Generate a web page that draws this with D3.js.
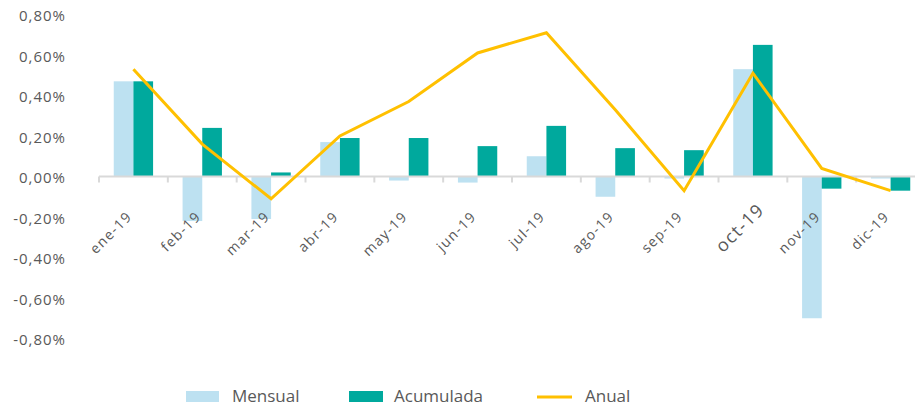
<!DOCTYPE html>
<html>
<head>
<meta charset="utf-8">
<script src="https://cdn.jsdelivr.net/npm/d3@7"></script>
<style>
  body { margin: 0; background: #fff; }
  svg text { font-family: "Open Sans", "DejaVu Sans", sans-serif; fill: #595959; }
</style>
</head>
<body>
<div id="chart"></div>
<script>
// data (percent)
const months = ["ene-19", "feb-19", "mar-19", "abr-19", "may-19", "jun-19",
                "jul-19", "ago-19", "sep-19", "oct-19", "nov-19", "dic-19"];
const mensual   = [0.47, -0.22, -0.21, 0.17, -0.02, -0.03, 0.10, -0.10, -0.01, 0.53, -0.70, -0.01];
const acumulada = [0.47, 0.24, 0.02, 0.19, 0.19, 0.15, 0.25, 0.14, 0.13, 0.65, -0.06, -0.07];
const anual     = [0.53, 0.16, -0.11, 0.20, 0.37, 0.61, 0.71, 0.33, -0.07, 0.51, 0.04, -0.07];
const yTicks = [-0.8, -0.6, -0.4, -0.2, 0, 0.2, 0.4, 0.6, 0.8];
const seriesNames = ["Mensual", "Acumulada"];

const colors = { Mensual: "#bde1f1", Acumulada: "#00a99d", Anual: "#ffc000" };

const width = 915, height = 408;

const svg = d3.select("#chart").append("svg")
    .attr("width", width)
    .attr("height", height);

// scales (plot runs a bit past the right edge, as in the original)
let x0 = d3.scaleBand().domain(months).range([99, 925]).padding(0);
let x1 = d3.scaleBand().domain(seriesNames).range([0, x0.bandwidth()])
    .paddingInner(0).paddingOuter(0.75);
let y = d3.scaleLinear().domain([-0.8, 0.8]).range([338.5, 14.5]);

let fmt = d => d3.format(".2f")(d).replace(".", ",").replace("−", "-") + "%";

// y axis labels (no line)
svg.append("g")
    .selectAll("text")
    .data(yTicks)
    .enter().append("text")
    .attr("x", 66)
    .attr("y", d => y(d) + 1)
    .attr("dy", "0.38em")
    .attr("text-anchor", "end")
    .style("font-size", "15px")
    .style("letter-spacing", "1px")
    .text(d => fmt(d));

// bars
let rows = months.map((m, i) => ({ month: m, Mensual: mensual[i], Acumulada: acumulada[i] }));

let groups = svg.append("g").selectAll("g")
    .data(rows)
    .enter().append("g")
    .attr("transform", d => "translate(" + x0(d.month) + ",0)");

groups.selectAll("rect")
    .data(d => seriesNames.map(k => ({ key: k, value: d[k] })))
    .enter().append("rect")
    .attr("x", d => x1(d.key))
    .attr("width", x1.bandwidth())
    .attr("y", d => y(Math.max(0, d.value)))
    .attr("height", d => Math.abs(y(d.value) - y(0)))
    .attr("fill", d => colors[d.key]);

// zero axis with ticks at band edges
let axis = svg.append("g");
axis.append("line")
    .attr("x1", x0.range()[0]).attr("x2", width)
    .attr("y1", y(0)).attr("y2", y(0))
    .attr("stroke", "#d9d9d9").attr("stroke-width", 2);
axis.selectAll(".tick")
    .data(months)
    .enter().append("line")
    .attr("x1", d => x0(d)).attr("x2", d => x0(d))
    .attr("y1", y(0)).attr("y2", y(0) + 6)
    .attr("stroke", "#d9d9d9").attr("stroke-width", 2);

// month labels, rotated (oct-19 is bigger in the original)
svg.append("g").selectAll("text")
    .data(months)
    .enter().append("text")
    .attr("transform", function (d) {
        let cx = x0(d) + x0.bandwidth() / 2;
        if (d === "oct-19") {
            return "translate(" + (cx + 8) + "," + (y(0) + 30) + ") rotate(-45)";
        }
        return "translate(" + (cx - 4) + "," + (y(0) + 37.5) + ") rotate(-45)";
    })
    .attr("text-anchor", "end")
    .attr("dy", "0.35em")
    .style("font-size", d => d === "oct-19" ? "18px" : "14px")
    .style("letter-spacing", "1.3px")
    .text(d => d);

// anual line
let line = d3.line()
    .x((d, i) => x0(months[i]) + x0.bandwidth() / 2)
    .y(d => y(d));

svg.append("path")
    .datum(anual)
    .attr("d", line)
    .attr("fill", "none")
    .attr("stroke", colors.Anual)
    .attr("stroke-width", 3)
    .attr("stroke-linejoin", "miter");

// legend
let legend = svg.append("g");
legend.append("rect").attr("x", 186).attr("y", 391).attr("width", 33).attr("height", 11).attr("fill", colors.Mensual);
legend.append("text").attr("x", 232).attr("y", 402).style("font-size", "17px").text("Mensual");
legend.append("rect").attr("x", 349).attr("y", 391).attr("width", 34).attr("height", 11).attr("fill", colors.Acumulada);
legend.append("text").attr("x", 394).attr("y", 402).style("font-size", "17px").text("Acumulada");
legend.append("line").attr("x1", 537).attr("x2", 572).attr("y1", 397).attr("y2", 397)
    .attr("stroke", colors.Anual).attr("stroke-width", 3);
legend.append("text").attr("x", 585).attr("y", 402).style("font-size", "17px").text("Anual");
</script>
</body>
</html>
